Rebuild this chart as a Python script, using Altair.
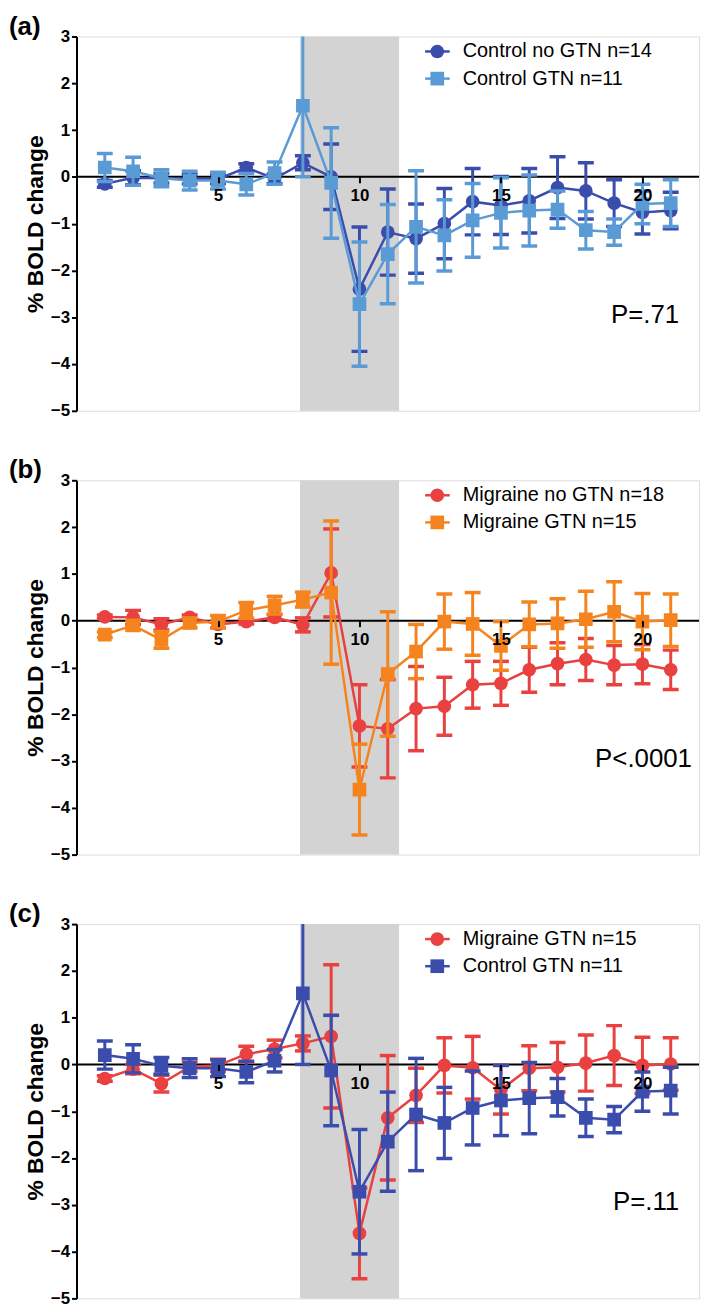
import altair as alt
import pandas as pd

# ---------------- data ----------------
time_points = list(range(1, 22))

ctrl_nogtn_mean = [-0.15, -0.02, -0.03, -0.05, -0.05, 0.20, -0.04, 0.30, 0.00, -2.40, -1.18,
                   -1.32, -1.00, -0.53, -0.61, -0.51, -0.23, -0.30, -0.56, -0.76, -0.72]
ctrl_nogtn_sem = [0.07, 0.15, 0.10, 0.10, 0.10, 0.08, 0.10, 0.15, 0.70, 1.33, 0.92,
                  0.74, 0.75, 0.71, 0.62, 0.69, 0.66, 0.60, 0.50, 0.46, 0.39]

ctrl_gtn_mean = [0.20, 0.12, -0.03, -0.08, -0.08, -0.16, 0.08, 1.52, -0.13, -2.72, -1.65,
                 -1.07, -1.25, -0.93, -0.77, -0.72, -0.70, -1.14, -1.18, -0.58, -0.56]
ctrl_gtn_sem = [0.30, 0.30, 0.18, 0.20, 0.18, 0.23, 0.24, 1.52, 1.18, 1.33, 1.06,
                1.20, 0.76, 0.79, 0.75, 0.76, 0.40, 0.40, 0.28, 0.42, 0.50]

mig_nogtn_mean = [0.08, 0.07, -0.08, 0.07, -0.08, -0.02, 0.07, -0.09, 1.02, -2.25, -2.31,
                  -1.88, -1.83, -1.37, -1.34, -1.05, -0.92, -0.83, -0.95, -0.93, -1.05]
mig_nogtn_sem = [0.04, 0.15, 0.12, 0.05, 0.07, 0.05, 0.06, 0.15, 0.94, 0.88, 1.05,
                 0.90, 0.62, 0.50, 0.47, 0.48, 0.45, 0.45, 0.42, 0.42, 0.42]

mig_gtn_mean = [-0.30, -0.10, -0.41, -0.05, -0.02, 0.22, 0.33, 0.45, 0.60, -3.61, -1.14,
                -0.66, -0.02, -0.07, -0.54, -0.08, -0.06, 0.03, 0.19, -0.02, 0.01]
mig_gtn_sem = [0.06, 0.10, 0.18, 0.10, 0.13, 0.17, 0.19, 0.16, 1.53, 0.97, 1.33,
               0.58, 0.59, 0.67, 0.52, 0.48, 0.53, 0.60, 0.64, 0.60, 0.56]

x_ticks = [5, 10, 15, 20]
y_ticks = [-5, -4, -3, -2, -1, 0, 1, 2, 3]
x_domain = [0, 22]
y_domain = [-5, 3]
stim_window = [7.9, 11.4]

panel_labels = ["(a)", "(b)", "(c)"]
legend_a = ["Control no GTN n=14", "Control GTN n=11"]
legend_b = ["Migraine no GTN n=18", "Migraine GTN n=15"]
legend_c = ["Migraine GTN n=15", "Control GTN n=11"]
p_texts = ["P=.71", "P<.0001", "P=.11"]

# ---------------- style / annotation placement ----------------
FONT = "Liberation Sans"
W, H = 627, 377
DARK_BLUE = "#3A4DAD"
LIGHT_BLUE = "#5B9BD5"
RED = "#E8413F"
ORANGE = "#F5841F"
BAND = "#D3D3D3"

P_X = [21.3, 21.75, 21.3]
P_Y = -2.95
LEG_Y = [2.68, 2.10]
LEG_LINE_X = [12.32, 13.19]
LEG_MARK_X = 12.75
LEG_TEXT_X = 13.65
LABEL_X = -68 * (x_domain[1] - x_domain[0]) / W       # left edge of the chart
LABEL_Y = y_domain[1] + 2 * (y_domain[1] - y_domain[0]) / H   # 2px above plot

xs = alt.Scale(domain=x_domain, nice=False, zero=False)
ys = alt.Scale(domain=y_domain, nice=False, zero=False)

x_axis = alt.Axis(values=x_ticks, orient="bottom",
                  offset=-H * (0 - y_domain[0]) / (y_domain[1] - y_domain[0]),
                  domain=False, ticks=True, tickSize=6, tickWidth=2, tickColor="black",
                  labelFont=FONT, labelFontSize=17, labelFontWeight="bold",
                  labelColor="black", labelPadding=5, grid=False, title=None, zindex=1)
y_axis = alt.Axis(values=y_ticks, domain=True, domainColor="black", domainWidth=2,
                  ticks=True, tickColor="black", tickWidth=2, tickSize=5,
                  labelFont=FONT, labelFontSize=17, labelFontWeight="bold",
                  labelColor="black", labelPadding=2, grid=False,
                  title="% BOLD change", titleFont=FONT, titleFontSize=23,
                  titleFontWeight="bold", titleColor="black", titlePadding=3)


def X(field):
    return alt.X(f"{field}:Q", scale=xs, axis=x_axis)


def Y(field):
    return alt.Y(f"{field}:Q", scale=ys, axis=y_axis)


def background_layers():
    band_df = pd.DataFrame({"x0": [stim_window[0]], "x1": [stim_window[1]],
                            "y0": [y_domain[0]], "y1": [y_domain[1]]})
    band = alt.Chart(band_df).mark_rect(color=BAND).encode(
        x=X("x0"), x2="x1", y=Y("y0"), y2="y1")
    zero_df = pd.DataFrame({"x0": [x_domain[0]], "x1": [x_domain[1]], "y": [0]})
    zero = alt.Chart(zero_df).mark_rule(color="black", strokeWidth=2).encode(
        x=X("x0"), x2="x1", y=Y("y"))
    return [band, zero]


def series_layers(mean, sem, color, shape):
    df = pd.DataFrame({"t": time_points, "mean": mean, "sem": sem})
    base = alt.Chart(df).transform_calculate(
        lo="datum.mean - datum.sem", hi="datum.mean + datum.sem")
    bars = base.mark_rule(color=color, strokeWidth=3, clip=True).encode(
        x=X("t"), y=Y("lo"), y2="hi")
    caps = base.transform_fold(["lo", "hi"], as_=["end", "v"]).mark_tick(
        color=color, orient="horizontal", size=16, thickness=3.5, opacity=1,
        clip=True).encode(x=X("t"), y=Y("v"))
    line = base.mark_line(color=color, strokeWidth=2.5, clip=True).encode(
        x=X("t"), y=Y("mean"))
    pts = base.mark_point(color=color, filled=True, shape=shape, size=190,
                          opacity=1, clip=True).encode(x=X("t"), y=Y("mean"))
    return [bars, caps, line, pts]


def legend_layers(labels, colors, shapes):
    df = pd.DataFrame({"label": labels, "y": LEG_Y,
                       "x0": [LEG_LINE_X[0]] * 2, "x1": [LEG_LINE_X[1]] * 2,
                       "xm": [LEG_MARK_X] * 2, "xt": [LEG_TEXT_X] * 2,
                       "color": colors, "shape": shapes})
    base = alt.Chart(df)
    lines = base.mark_rule(strokeWidth=2.5).encode(
        x=X("x0"), x2="x1", y=Y("y"), color=alt.Color("color:N", scale=None))
    marks = base.mark_point(filled=True, size=190, opacity=1).encode(
        x=X("xm"), y=Y("y"), color=alt.Color("color:N", scale=None),
        shape=alt.Shape("shape:N", scale=None))
    texts = base.mark_text(align="left", baseline="middle", fontSize=20,
                           font=FONT, color="black").encode(
        x=X("xt"), y=Y("y"), text="label:N")
    return [lines, marks, texts]


def p_layer(i):
    df = pd.DataFrame({"px": [P_X[i]], "py": [P_Y], "p": [p_texts[i]]})
    return alt.Chart(df).mark_text(align="right", baseline="middle", fontSize=26,
                                   font=FONT, color="black").encode(
        x=X("px"), y=Y("py"), text="p:N")


def label_layer(i):
    df = pd.DataFrame({"lx": [LABEL_X], "ly": [LABEL_Y], "lab": [panel_labels[i]]})
    return alt.Chart(df).mark_text(align="left", baseline="alphabetic", fontSize=26,
                                   fontWeight="bold", font=FONT, color="black").encode(
        x=X("lx"), y=Y("ly"), text="lab:N")


def panel(i, s1, s2, labels):
    layers = background_layers()
    layers += series_layers(*s1)
    layers += series_layers(*s2)
    layers += legend_layers(labels, [s1[2], s2[2]], [s1[3], s2[3]])
    layers.append(p_layer(i))
    layers.append(label_layer(i))
    return alt.layer(*layers).properties(width=W, height=H)


pa = panel(0, (ctrl_nogtn_mean, ctrl_nogtn_sem, DARK_BLUE, "circle"),
           (ctrl_gtn_mean, ctrl_gtn_sem, LIGHT_BLUE, "square"), legend_a)
pb = panel(1, (mig_nogtn_mean, mig_nogtn_sem, RED, "circle"),
           (mig_gtn_mean, mig_gtn_sem, ORANGE, "square"), legend_b)
pc = panel(2, (mig_gtn_mean, mig_gtn_sem, RED, "circle"),
           (ctrl_gtn_mean, ctrl_gtn_sem, DARK_BLUE, "square"), legend_c)

chart = alt.vconcat(pa, pb, pc, spacing=37).properties(padding=0).configure_view(
    stroke=None).configure(font=FONT)

chart.save("out.html", embed_options={"renderer": "svg", "actions": False})
